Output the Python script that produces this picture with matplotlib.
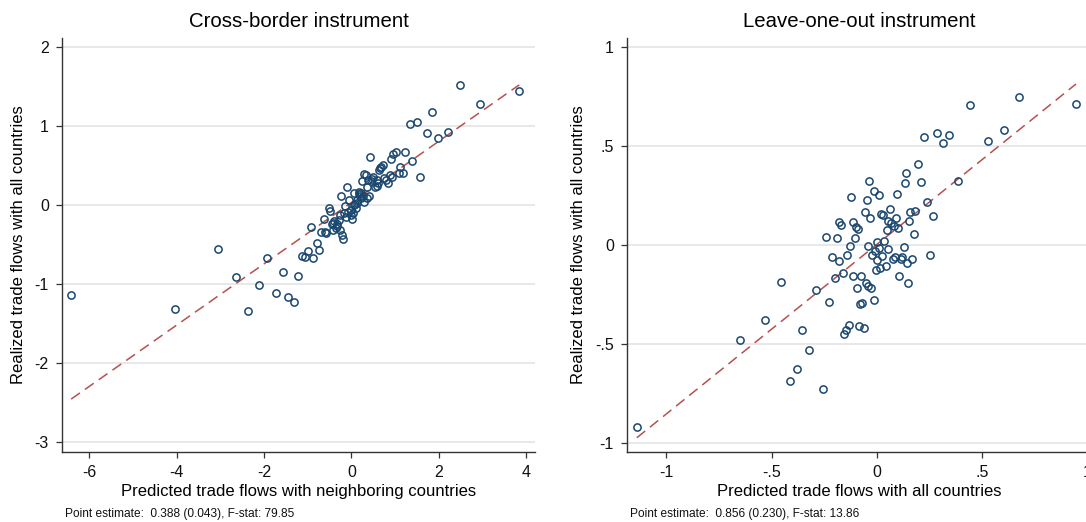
import matplotlib
matplotlib.use('Agg')
import matplotlib.pyplot as plt
import numpy as np

plt.rcParams['font.family'] = ['Liberation Sans', 'DejaVu Sans']
plt.rcParams['axes.unicode_minus'] = False

# Cross-border instrument: predicted (neighbors) vs realized
cb_x = [-6.41, -4.03, -3.04, -2.65, -2.37, -2.12, -1.92, -1.72, -1.57, -1.44, -1.32, -1.23,
        -1.14, -1.07, -0.99, -0.87, -0.79, -0.75, -0.93, -0.69, -0.63, -0.57, -0.52, -0.48,
        -0.45, -0.41, -0.39, -0.35, -0.32, -0.28, -0.25, -0.23, -0.21, -0.19, -0.16, -0.12,
        -0.095, -0.07, -0.05, -0.02, 0.02, 0.03, 0.06, 0.08, 0.10, 0.14, 0.17, 0.20, 0.22,
        0.25, 0.27, 0.30, 0.33, 0.35, 0.37, 0.41, 0.43, 0.46, 0.50, 0.54, 0.58, 0.62, 0.64,
        0.68, 0.72, 0.755, 0.80, 0.84, 0.90, 0.92, 0.95, 1.02, 1.11, 1.18, 1.23, 1.34, 1.39,
        1.49, 1.57, 1.72, 1.85, 1.99, 2.21, 2.49, 2.94, 3.84,
        -0.34, -0.26, -0.60, 0.12, 0.18, 0.05, 0.29, 0.48, 0.65, 1.09, 0.88, -0.42, 0.00,
        0.22, 0.35, 0.58, -0.14]
cb_y = [-1.145, -1.32, -0.56, -0.92, -1.35, -1.01, -0.68, -1.12, -0.85, -1.17, -1.23, -0.90,
        -0.65, -0.665, -0.59, -0.67, -0.49, -0.57, -0.28, -0.345, -0.18, -0.36, -0.04, -0.08,
        -0.25, -0.32, -0.21, -0.29, -0.24, -0.19, -0.13, 0.11, -0.38, -0.43, -0.105, -0.15,
        0.22, -0.09, 0.06, -0.13, -0.18, -0.105, 0.15, 0.01, -0.04, 0.06, 0.16, 0.105, 0.15,
        0.295, 0.105, 0.03, 0.38, 0.23, 0.31, 0.105, 0.60, 0.295, 0.35, 0.22, 0.31, 0.28, 0.44,
        0.48, 0.505, 0.34, 0.315, 0.27, 0.58, 0.35, 0.64, 0.67, 0.48, 0.40, 0.67, 1.02, 0.555,
        1.05, 0.355, 0.905, 1.17, 0.845, 0.925, 1.51, 1.27, 1.435,
        -0.27, -0.32, -0.34, 0.02, 0.13, 0.00, 0.39, 0.32, 0.46, 0.40, 0.38, -0.23, -0.07,
        0.08, 0.09, 0.24, -0.02]
cb_fit = (0.027, 0.388)   # intercept, slope

# Leave-one-out instrument: predicted (all) vs realized
lo_x = [-1.14, -0.65, -0.53, -0.455, -0.414, -0.38, -0.353, -0.32, -0.29, -0.257, -0.24,
        -0.226, -0.213, -0.20, -0.19, -0.18, -0.178, -0.17, -0.162, -0.155, -0.147, -0.142,
        -0.134, -0.129, -0.122, -0.115, -0.112, -0.104, -0.10, -0.092, -0.087, -0.084,
        -0.081, -0.073, -0.069, -0.061, -0.056, -0.051, -0.048, -0.043, -0.04, -0.035,
        -0.031, -0.028, -0.023, -0.015, -0.012, -0.008, -0.005, 0.0, 0.003, 0.01, 0.013,
        0.015, 0.018, 0.023, 0.031, 0.036, 0.045, 0.048, 0.053, 0.056, 0.064, 0.069, 0.076,
        0.081, 0.089, 0.094, 0.096, 0.10, 0.106, 0.114, 0.122, 0.129, 0.134, 0.139, 0.144,
        0.149, 0.155, 0.16, 0.167, 0.175, 0.183, 0.195, 0.21, 0.223, 0.239, 0.252, 0.269,
        0.287, 0.314, 0.345, 0.386, 0.444, 0.528, 0.606, 0.678, 0.947]
lo_y = [-0.92, -0.48, -0.38, -0.19, -0.69, -0.63, -0.43, -0.53, -0.23, -0.73, 0.04,
        -0.29, -0.06, -0.17, 0.035, -0.08, 0.115, 0.10, -0.145, -0.45, -0.43, -0.05,
        -0.405, -0.005, 0.24, -0.16, 0.115, 0.035, 0.09, -0.22, 0.077, -0.41,
        -0.30, -0.16, -0.295, -0.42, 0.163, -0.195, 0.224, -0.007, -0.207, 0.32,
        0.136, -0.22, -0.052, -0.28, 0.27, -0.032, -0.128, 0.013, -0.077, 0.25, -0.019,
        -0.12, 0.157, -0.056, 0.15, 0.02, -0.106, 0.074, -0.02, 0.12, 0.18, 0.108, -0.07,
        0.094, -0.064, 0.133, 0.256, 0.086, -0.16, -0.074, -0.064, -0.01, 0.31, 0.364, -0.094,
        -0.194, 0.121, 0.165, -0.072, 0.054, 0.17, 0.407, 0.315, 0.542, 0.217, -0.052, 0.145,
        0.562, 0.515, 0.554, 0.32, 0.707, 0.524, 0.577, 0.746, 0.71]
lo_fit = (0.001, 0.856)

cb_xticks = [-6, -4, -2, 0, 2, 4]
cb_yticks = [-3, -2, -1, 0, 1, 2]
lo_ticks = [-1, -0.5, 0, 0.5, 1]
lo_ticklabels = ['-1', '-.5', '0', '.5', '1']

NAVY = '#1a476f'
MAROON = '#b5514f'
GRID = '#e4e4e4'

fig = plt.figure(figsize=(10.86, 5.22), dpi=100, facecolor='white')


def panel(rect, xs, ys, fit, title, xlabel, xlim, ylim,
          xticks, xlabels, yticks, ylabels, ylab_x):
    ax = fig.add_axes(rect)
    ax.set_xlim(*xlim)
    ax.set_ylim(*ylim)
    for yt in yticks:
        ax.axhline(yt, color=GRID, lw=1.2, zorder=0)
    xs = np.array(xs)
    xf = np.array([xs.min(), xs.max()])
    ax.plot(xf, fit[0] + fit[1] * xf, color=MAROON, lw=1.1, dashes=(7, 4), zorder=2)
    ax.plot(xs, ys, 'o', ms=5.2, mfc='none', mec=NAVY, mew=1.1, zorder=3)
    for s in ['top', 'right']:
        ax.spines[s].set_visible(False)
    for s in ['left', 'bottom']:
        ax.spines[s].set_color('#333333')
        ax.spines[s].set_linewidth(1.0)
    ax.set_xticks(xticks)
    ax.set_xticklabels(xlabels)
    ax.set_yticks(yticks)
    ax.set_yticklabels(ylabels)
    ax.tick_params(direction='out', length=4.5, width=0.9, color='#333333',
                   labelsize=11.5, labelcolor='#111111', pad=5)
    ax.set_title(title, fontsize=14.7, pad=8)
    ax.set_xlabel(xlabel, fontsize=12)
    ax.xaxis.set_label_coords(0.5, -0.077)
    ax.set_ylabel('Realized trade flows with all countries', fontsize=12)
    ax.yaxis.set_label_coords(ylab_x, 0.5)
    return ax


panel([0.0571, 0.1341, 0.4355, 0.7931], cb_x, cb_y, cb_fit,
      'Cross-border instrument', 'Predicted trade flows with neighboring countries',
      (-6.62, 4.20), (-3.13, 2.11),
      cb_xticks, [str(t) for t in cb_xticks], cb_yticks, [str(t) for t in cb_yticks], -0.077)

panel([0.5773, 0.1341, 0.4282, 0.7931], lo_x, lo_y, lo_fit,
      'Leave-one-out instrument', 'Predicted trade flows with all countries',
      (-1.187, 1.023), (-1.047, 1.044),
      lo_ticks, lo_ticklabels, lo_ticks, lo_ticklabels, -0.088)

fig.text(65 / 1086, 8 / 522, 'Point estimate:  0.388 (0.043), F-stat: 79.85',
         fontsize=8.6, va='center', ha='left', color='#111111')
fig.text(630 / 1086, 8 / 522, 'Point estimate:  0.856 (0.230), F-stat: 13.86',
         fontsize=8.6, va='center', ha='left', color='#111111')

fig.savefig('out.png', dpi=100, facecolor='white')
